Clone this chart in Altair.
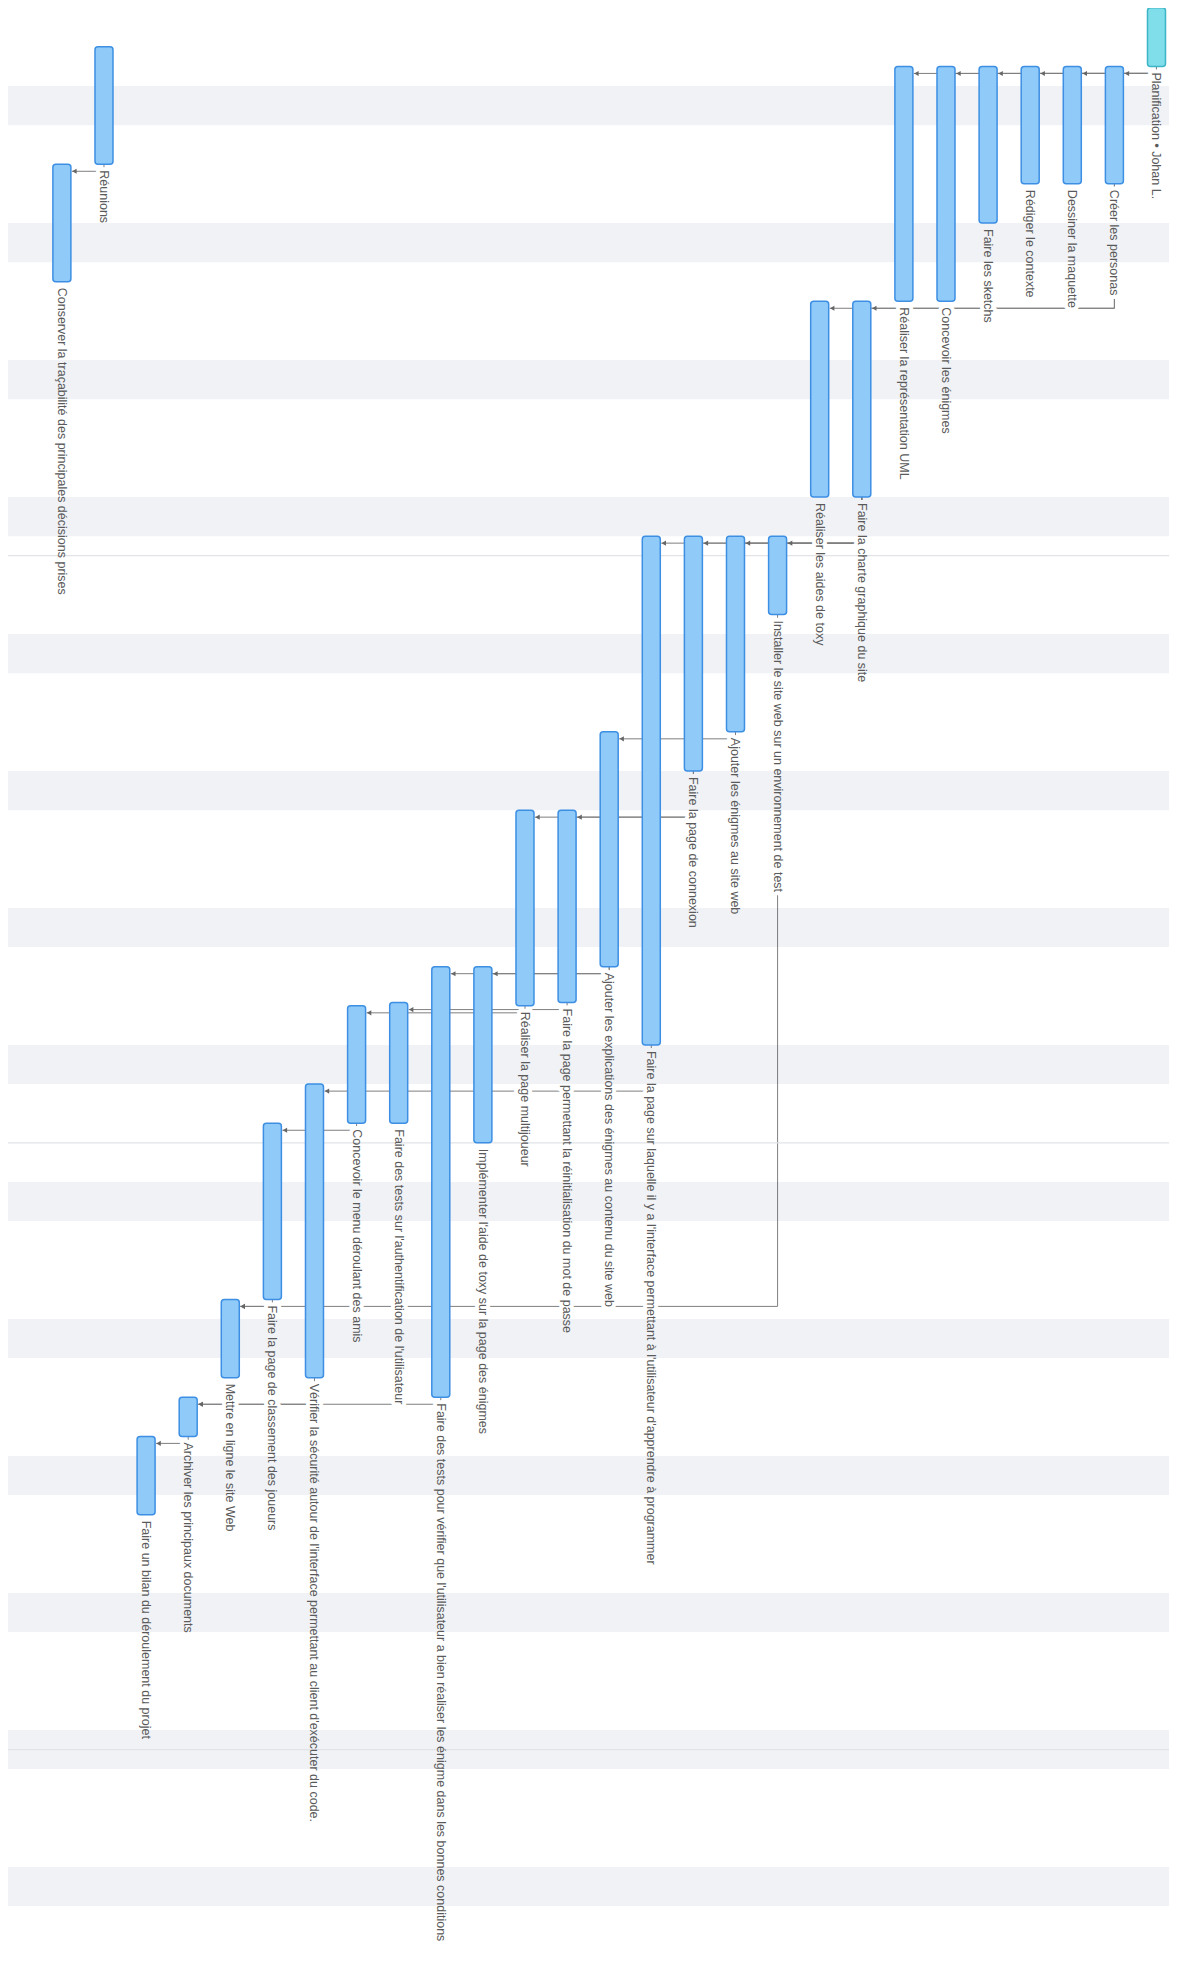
import altair as alt
import pandas as pd

# ---------------- data ----------------
tasks = [
    "Planification • Johan L.",
    "Créer les personas",
    "Dessiner la maquette",
    "Rédiger le contexte",
    "Faire les sketchs",
    "Concevoir les énigmes",
    "Réaliser la représentation UML",
    "Faire la charte graphique du site",
    "Réaliser les aides de toxy",
    "Installer le site web sur un environnement de test",
    "Ajouter les énigmes au site web",
    "Faire la page de connexion",
    "Faire la page sur laquelle il y a l'interface permettant à l'utilisateur d'apprendre à programmer",
    "Ajouter les explications des énigmes au contenu du site web",
    "Faire la page permettant la réinitialisation du mot de passe",
    "Réaliser la page multijoueur",
    "Implémenter l'aide de toxy sur la page des énigmes",
    "Faire des tests pour vérifier que l'utilisateur a bien réaliser les énigme dans les bonnes conditions",
    "Faire des tests sur l'authentification de l'utilisateur",
    "Concevoir le menu déroulant des amis",
    "Vérifier la sécurité autour de l'interface permettant au client d'exécuter du code.",
    "Faire la page de classement des joueurs",
    "Mettre en ligne le site Web",
    "Archiver les principaux documents",
    "Faire un bilan du déroulement du projet",
    "Réunions",
    "Conserver la traçabilité des principales décisions prises",
]

starts = [
    "2022-10-04", "2022-10-07", "2022-10-07", "2022-10-07", "2022-10-07",
    "2022-10-07", "2022-10-07", "2022-10-19", "2022-10-19", "2022-10-31",
    "2022-10-31", "2022-10-31", "2022-10-31", "2022-11-10", "2022-11-14",
    "2022-11-14", "2022-11-22", "2022-11-22", "2022-11-23T20:00:00Z", "2022-11-24",
    "2022-11-28", "2022-11-30", "2022-12-09", "2022-12-14", "2022-12-16",
    "2022-10-06", "2022-10-12",
]

ends = [
    "2022-10-07", "2022-10-13", "2022-10-13", "2022-10-13", "2022-10-15",
    "2022-10-19", "2022-10-19", "2022-10-29", "2022-10-29", "2022-11-04",
    "2022-11-10", "2022-11-12", "2022-11-26", "2022-11-22", "2022-11-23T20:00:00Z",
    "2022-11-24", "2022-12-01", "2022-12-14", "2022-11-30", "2022-11-30",
    "2022-12-13", "2022-12-09", "2022-12-13", "2022-12-16", "2022-12-20",
    "2022-10-12", "2022-10-18",
]

kinds = ["phase"] + ["task"] * 26

# dependencies (indices into tasks)
dep_parents = [0, 0, 0, 0, 0, 0, 1, 1, 7, 7, 7, 7, 25, 10, 11, 11, 13, 13, 14, 15, 12, 19, 9, 21, 17, 20, 23]
dep_children = [1, 2, 3, 4, 5, 6, 7, 8, 9, 10, 11, 12, 26, 13, 14, 15, 16, 17, 18, 19, 20, 21, 22, 22, 23, 23, 24]

weekend_starts = ["2022-10-08", "2022-10-15", "2022-10-22", "2022-10-29", "2022-11-05",
                  "2022-11-12", "2022-11-19", "2022-11-26", "2022-12-03", "2022-12-10",
                  "2022-12-17", "2022-12-24", "2022-12-31", "2023-01-07"]
weekend_ends = ["2022-10-10", "2022-10-17", "2022-10-24", "2022-10-31", "2022-11-07",
                "2022-11-14", "2022-11-21", "2022-11-28", "2022-12-05", "2022-12-12",
                "2022-12-19", "2022-12-26", "2023-01-02", "2023-01-09"]
month_starts = ["2022-11-01", "2022-12-01", "2023-01-01"]

# ---------------- tables ----------------
task_df = pd.DataFrame({
    "task": tasks,
    "col": list(range(len(tasks))),
    "start": starts,
    "end": ends,
    "kind": kinds,
})

dep_df = pd.DataFrame({
    "pcol": dep_parents,
    "ccol": dep_children,
    "pend": [ends[p] for p in dep_parents],
    "cstart": [starts[c] for c in dep_children],
})

band_df = pd.DataFrame({"sat": weekend_starts, "mon": weekend_ends})
month_df = pd.DataFrame({"m": month_starts})

W, H = 1161, 1972

xs = alt.Scale(domain=[-0.297, 27.28], reverse=True, zero=False, nice=False)
ys = alt.Scale(
    type="utc",
    domain=[
        alt.DateTime(year=2022, month=10, date=4, hours=0, minutes=21, utc=True),
        alt.DateTime(year=2023, month=1, date=12, hours=18, minutes=37, utc=True),
    ],
    reverse=True,
    nice=False,
)

LINE = "#7f7f7f"
TEXT = "#5a5a5a"
FONT = "Liberation Sans"
FS = 12.5

vconn = alt.Chart(dep_df).mark_rule(color=LINE, strokeWidth=1, y2Offset=7).encode(
    x=alt.X("pcol:Q", scale=xs, axis=None),
    y=alt.Y("pend:T", scale=ys, axis=None),
    y2="cstart:T",
)

hconn = alt.Chart(dep_df).mark_rule(color=LINE, strokeWidth=1, yOffset=7, x2Offset=10).encode(
    x=alt.X("pcol:Q", scale=xs, axis=None),
    x2="ccol:Q",
    y=alt.Y("cstart:T", scale=ys, axis=None),
)

halo = alt.Chart(task_df).mark_text(
    angle=90, align="left", baseline="middle", dx=6, fontSize=FS, font=FONT,
    color="white", stroke="white", strokeWidth=8, strokeJoin="round",
).encode(
    x=alt.X("col:Q", scale=xs, axis=None),
    y=alt.Y("end:T", scale=ys, axis=None),
    text="task:N",
)

bands = alt.Chart(band_df).mark_rect(color="#25377A", opacity=0.065).encode(
    x=alt.value(0),
    x2=alt.value(W),
    y=alt.Y("sat:T", scale=ys, axis=None),
    y2="mon:T",
)

months = alt.Chart(month_df).mark_rule(color="#e2e3e7", strokeWidth=1.2).encode(
    x=alt.value(0),
    x2=alt.value(W),
    y=alt.Y("m:T", scale=ys, axis=None),
)

bars = alt.Chart(task_df).mark_rect(
    cornerRadius=3, strokeWidth=1.5, xOffset=-9, x2Offset=9,
).encode(
    x=alt.X("col:Q", scale=xs, axis=None),
    x2="col:Q",
    y=alt.Y("start:T", scale=ys, axis=None),
    y2="end:T",
    fill=alt.Fill("kind:N", scale=alt.Scale(domain=["phase", "task"], range=["#80DEEA", "#90CAF9"]), legend=None),
    stroke=alt.Stroke("kind:N", scale=alt.Scale(domain=["phase", "task"], range=["#3DB5C6", "#3D8FE3"]), legend=None),
)

labels = alt.Chart(task_df).mark_text(
    angle=90, align="left", baseline="middle", dx=6, fontSize=FS, font=FONT, color=TEXT,
).encode(
    x=alt.X("col:Q", scale=xs, axis=None),
    y=alt.Y("end:T", scale=ys, axis=None),
    text="task:N",
)

arrows = alt.Chart(dep_df).mark_point(
    shape="triangle-left", filled=True, size=26, color="#666666", opacity=1,
    xOffset=12.5, yOffset=7,
).encode(
    x=alt.X("ccol:Q", scale=xs, axis=None),
    y=alt.Y("cstart:T", scale=ys, axis=None),
)

chart = alt.layer(vconn, hconn, halo, bands, months, bars, labels, arrows).properties(
    width=W, height=H, padding=0,
    autosize=alt.AutoSizeParams(type="none"),
    background="white",
).configure_view(strokeWidth=0)

chart.save("out.html", embed_options={"renderer": "svg", "actions": False})
